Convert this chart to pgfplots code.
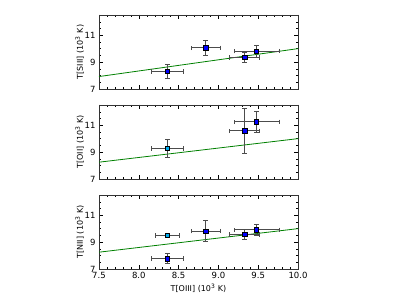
\documentclass[border=0pt]{standalone}
\usepackage{fontspec}
\setmainfont{DejaVu Sans}
\usepackage{pgfplots}
\pgfplotsset{compat=1.18}
\definecolor{mplgreen}{rgb}{0,0.5,0}
\definecolor{ebar}{rgb}{0.3,0.3,0.3}
\pgfplotsset{
  panel/.style={
    scale only axis, width=199pt, height=74pt,
    xmin=7.5, xmax=10.0, ymin=7, ymax=12.5,
    xtick={7.5,8.0,...,10.0},
    minor xtick={7.5,7.6,...,10.0},
    ytick={7,9,11},
    minor ytick={7,7.5,...,12.5},
    tick align=inside, tick pos=both,
    major tick length=4pt, minor tick length=2pt,
    every tick/.style={black, line width=0.4pt},
    axis line style={black!80, line width=0.8pt},
    tick label style={font=\fontsize{8.5}{9}\selectfont},
    label style={font=\fontsize{8}{9}\selectfont},
    /pgf/number format/assume math mode=true,
    yticklabel style={/pgf/number format/fixed},
    xticklabel style={/pgf/number format/.cd, fixed, fixed zerofill, precision=1},
    ylabel style={at={(axis description cs:-0.097,0.5)}, anchor=center},
    clip=false,
  },
  pts/.style={only marks, mark=square*, mark size=2.1pt,
    mark options={line width=0.5pt, draw=black, fill=#1},
    error bars/x dir=both, error bars/x explicit,
    error bars/y dir=both, error bars/y explicit,
    error bars/error bar style={ebar, line width=0.8pt},
    error bars/error mark options={ebar, line width=0.8pt, mark size=2.3pt, rotate=90},
  },
}
\begin{document}
\begin{tikzpicture}
\path[use as bounding box] (0,0) rectangle (398pt,-299pt);
% Panel 1
\begin{axis}[panel, at={(99pt,-15pt)}, anchor=north west,
  xticklabels={}, ylabel={T[SIII] (10\textsuperscript{3} K)}]
\addplot[mplgreen, line width=0.8pt] coordinates {(7.5,7.925) (10.0,10.0)};
\addplot[pts=blue] table[x error=ex, y error=ey] {
x y ex ey
8.36 8.30 0.20 0.50
8.84 10.06 0.18 0.55
9.33 9.35 0.19 0.35
9.48 9.81 0.285 0.45
};
\end{axis}
% Panel 2
\begin{axis}[panel, at={(99pt,-105pt)}, anchor=north west,
  xticklabels={}, ylabel={T[OII] (10\textsuperscript{3} K)}]
\addplot[mplgreen, line width=0.8pt] coordinates {(7.5,8.25) (10.0,10.0)};
\addplot[pts=cyan] table[x error=ex, y error=ey] {
x y ex ey
8.36 9.28 0.20 0.70
};
\addplot[pts=blue] table[x error=ex, y error=ey] {
x y ex ey
9.33 10.58 0.19 1.68
9.48 11.25 0.285 0.79
};
\end{axis}
% Panel 3
\begin{axis}[panel, at={(99pt,-195pt)}, anchor=north west,
  xlabel={T[OIII] (10\textsuperscript{3} K)},
  xlabel style={yshift=2pt},
  ylabel={T[NII] (10\textsuperscript{3} K)}]
\addplot[mplgreen, line width=0.8pt] coordinates {(7.5,8.25) (10.0,10.0)};
\addplot[pts=cyan] table[x error=ex, y error=ey] {
x y ex ey
8.36 9.50 0.15 0.15
};
\addplot[pts=blue] table[x error=ex, y error=ey] {
x y ex ey
8.36 7.76 0.20 0.37
8.84 9.81 0.18 0.77
9.33 9.57 0.19 0.37
9.48 9.91 0.285 0.42
};
\end{axis}
\end{tikzpicture}
\end{document}
